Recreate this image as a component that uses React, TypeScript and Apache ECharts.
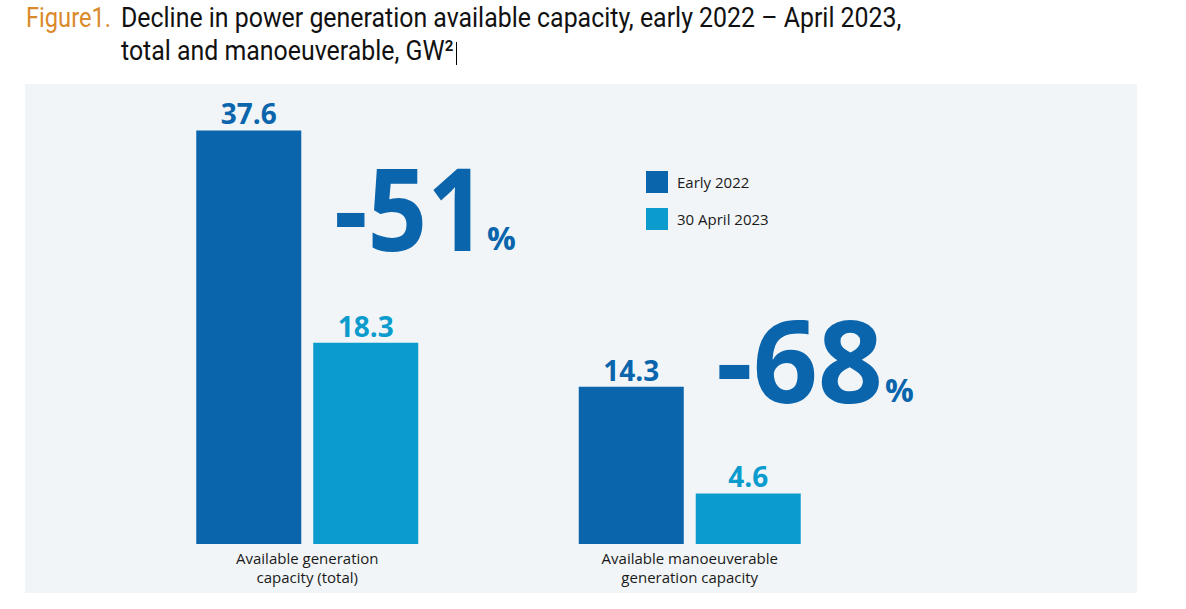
import React, { useEffect, useRef } from "react";
import * as echarts from "echarts";

// ---- data ----
const categories = [
  "Available generation\ncapacity (total)",
  "Available manoeuverable\ngeneration capacity",
];
const seriesNames = ["Early 2022", "30 April 2023"];
const early2022 = [37.6, 14.3];
const april2023 = [18.3, 4.6];
const titleLabel = "Figure1.";
const titleLine1 = "Decline in power generation available capacity, early 2022 – April 2023,";
const titleLine2 = "total and manoeuverable, GW²";

const DARK = "#0a65ad";
const LIGHT = "#0b9ccd";
const TITLE_FONT = "Roboto";

function measure(text: string, font: string): number {
  const c = document.createElement("canvas");
  const ctx = c.getContext("2d");
  if (!ctx) return text.length * 12;
  ctx.font = font;
  return ctx.measureText(text).width;
}

export default function App() {
  const ref = useRef<HTMLDivElement>(null);
  useEffect(() => {
    document.body.style.margin = "0";
    if (!ref.current) return;
    const chart = echarts.init(ref.current, undefined, { renderer: "svg" });

    const pct = early2022.map((v, i) => Math.round(((april2023[i] - v) / v) * 100));

    const tSize = 28;
    const w1 = measure(titleLine1, `${tSize}px ${TITLE_FONT}`);
    const sx = 781 / w1;
    const wFig = measure(titleLabel, `${tSize}px ${TITLE_FONT}`);
    const sxFig = 85 / wFig;

    const bigFont = "Open Sans";
    const option: any = {
      animation: false,
      backgroundColor: "#ffffff",
      grid: { left: 116, width: 765, top: 104, height: 440, containLabel: false },
      legend: {
        orient: "vertical",
        left: 646,
        top: 171,
        padding: 0,
        itemWidth: 22,
        itemHeight: 22,
        itemGap: 15,
        icon: "rect",
        data: seriesNames,
        textStyle: { fontSize: 15, color: "#1a1a1a", fontFamily: bigFont, padding: [0, 0, 0, 4] },
      },
      xAxis: {
        type: "category",
        data: categories,
        axisLine: { show: false },
        axisTick: { show: false },
        axisLabel: {
          margin: 4,
          fontSize: 15,
          lineHeight: 19,
          color: "#1a1a1a",
          fontFamily: bigFont,
        },
      },
      yAxis: {
        type: "value",
        min: 0,
        max: 40,
        show: false,
        splitLine: { show: false },
      },
      series: [
        {
          name: seriesNames[0],
          type: "bar",
          data: early2022,
          barWidth: 105,
          barGap: "11.4%",
          itemStyle: { color: DARK },
          label: {
            show: true,
            position: "top",
            distance: 3,
            fontSize: 28,
            fontWeight: "bold",
            color: DARK,
            fontFamily: bigFont,
          },
        },
        {
          name: seriesNames[1],
          type: "bar",
          data: april2023,
          barWidth: 105,
          barGap: "11.4%",
          itemStyle: { color: LIGHT },
          label: {
            show: true,
            position: "top",
            distance: 3,
            fontSize: 28,
            fontWeight: "bold",
            color: LIGHT,
            fontFamily: bigFont,
          },
        },
      ],
      graphic: [
        {
          type: "rect",
          z: -10,
          shape: { x: 25, y: 84, width: 1112, height: 509 },
          style: { fill: "#f1f5f7" },
        },
        {
          type: "text",
          x: 26,
          y: 17,
          scaleX: sxFig,
          style: {
            text: titleLabel,
            fill: "#d98a2b",
            font: `${tSize}px ${TITLE_FONT}`,
            verticalAlign: "middle",
          },
        },
        {
          type: "text",
          x: 121,
          y: 17,
          scaleX: sx,
          style: {
            text: titleLine1,
            fill: "#111111",
            font: `${tSize}px ${TITLE_FONT}`,
            verticalAlign: "middle",
          },
        },
        {
          type: "text",
          x: 121,
          y: 50,
          scaleX: sx,
          style: {
            text: titleLine2,
            fill: "#111111",
            font: `${tSize}px ${TITLE_FONT}`,
            verticalAlign: "middle",
          },
        },
        {
          type: "line",
          shape: { x1: 456.5, y1: 42, x2: 456.5, y2: 65 },
          style: { stroke: "#000", lineWidth: 1 },
        },
        {
          type: "text",
          x: 334,
          y: 207,
          scaleX: 0.915,
          style: {
            text: String(pct[0]),
            fill: DARK,
            font: `bold 114px '${bigFont}'`,
            verticalAlign: "middle",
          },
        },
        {
          type: "text",
          x: 487,
          y: 237,
          style: {
            text: "%",
            fill: DARK,
            font: `bold 32px '${bigFont}'`,
            verticalAlign: "middle",
          },
        },
        {
          type: "text",
          x: 716,
          y: 358,
          style: {
            text: String(pct[1]),
            fill: DARK,
            font: `bold 114px '${bigFont}'`,
            verticalAlign: "middle",
          },
        },
        {
          type: "text",
          x: 885,
          y: 389,
          style: {
            text: "%",
            fill: DARK,
            font: `bold 32px '${bigFont}'`,
            verticalAlign: "middle",
          },
        },
      ],
    };
    chart.setOption(option);
    return () => chart.dispose();
  }, []);
  return (
    <div
      ref={ref}
      style={{ position: "absolute", left: 0, top: 0, width: 1186, height: 609 }}
    />
  );
}
